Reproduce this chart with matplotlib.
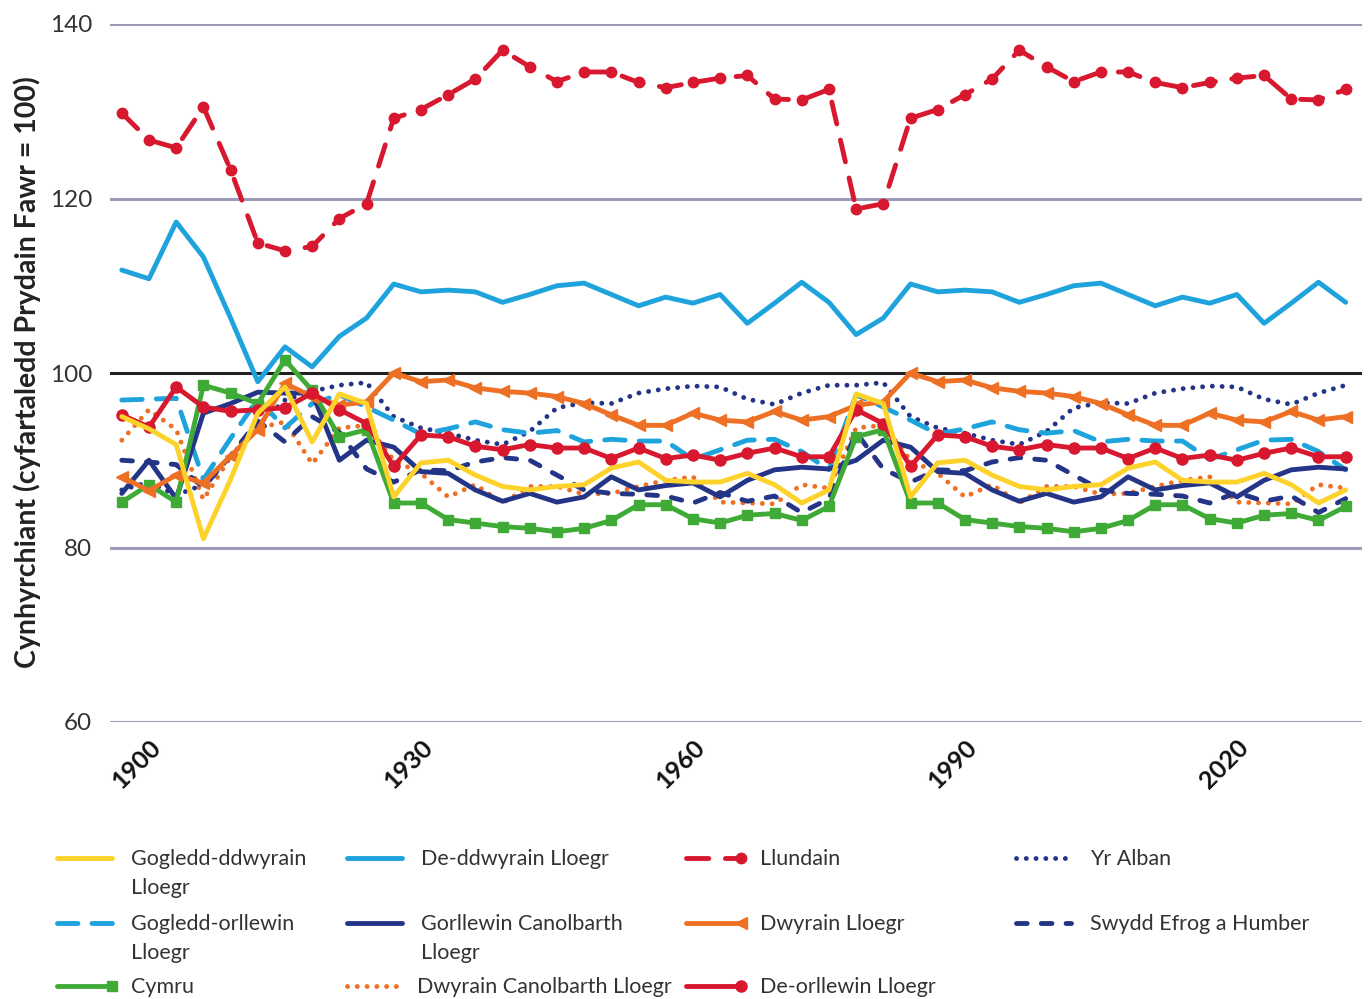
import numpy as np
import matplotlib
matplotlib.use("Agg")
import matplotlib.pyplot as plt
from matplotlib.lines import Line2D

plt.rcParams['font.family'] = ['Lato', 'DejaVu Sans']

# one point every three years, ticks every 30 years
years = np.arange(1897, 2033, 3)
tick_years = [1900, 1930, 1960, 1990, 2020]
y_ticks = [60, 80, 100, 120, 140]

gogledd_ddwyrain = [95.0, 93.6, 91.8, 81.0, 87.8, 95.4, 98.4, 92.1, 97.6, 96.5,
                    85.8, 89.7, 90.0, 88.3, 87.0, 86.6, 87.0, 87.2, 89.1, 89.8,
                    87.7, 87.5, 87.5, 88.5, 87.2, 85.1, 86.6, 97.6, 96.5, 85.8,
                    89.7, 90.0, 88.3, 87.0, 86.6, 87.0, 87.2, 89.1, 89.8, 87.7,
                    87.5, 87.5, 88.5, 87.2, 85.1, 86.6]
gogledd_orllewin = [96.9, 97.0, 97.1, 87.8, 92.5, 97.0, 93.7, 96.5, 97.5, 96.1,
                    94.6, 93.0, 93.6, 94.4, 93.5, 93.1, 93.4, 92.1, 92.4, 92.2,
                    92.2, 90.1, 91.2, 92.3, 92.4, 91.0, 88.9, 97.5, 96.1, 94.6,
                    93.0, 93.6, 94.4, 93.5, 93.1, 93.4, 92.1, 92.4, 92.2, 92.2,
                    90.1, 91.2, 92.3, 92.4, 91.0, 88.9]
cymru = [85.2, 87.2, 85.2, 98.6, 97.7, 96.5, 101.5, 98.0, 92.7, 93.5,
         85.1, 85.1, 83.2, 82.8, 82.4, 82.2, 81.8, 82.2, 83.1, 84.9,
         84.9, 83.3, 82.8, 83.7, 83.9, 83.1, 84.7, 92.7, 93.5, 85.1,
         85.1, 83.2, 82.8, 82.4, 82.2, 81.8, 82.2, 83.1, 84.9, 84.9,
         83.3, 82.8, 83.7, 83.9, 83.1, 84.7]
de_ddwyrain = [111.8, 110.8, 117.3, 113.3, 106.3, 99.0, 103.0, 100.7, 104.2, 106.3,
               110.2, 109.3, 109.5, 109.3, 108.1, 109.0, 110.0, 110.3, 109.0, 107.7,
               108.7, 108.0, 109.0, 105.7, 108.0, 110.4, 108.1, 104.4, 106.3, 110.2,
               109.3, 109.5, 109.3, 108.1, 109.0, 110.0, 110.3, 109.0, 107.7, 108.7,
               108.0, 109.0, 105.7, 108.0, 110.4, 108.1]
gorllewin_canolbarth = [86.2, 90.0, 85.6, 95.4, 96.5, 97.8, 97.7, 97.7, 90.0, 92.3,
                        91.5, 88.7, 88.5, 86.6, 85.3, 86.2, 85.2, 85.8, 88.1, 86.6,
                        87.1, 87.4, 85.8, 87.7, 88.9, 89.2, 89.0, 90.0, 92.3, 91.5,
                        88.7, 88.5, 86.6, 85.3, 86.2, 85.2, 85.8, 88.1, 86.6, 87.1,
                        87.4, 85.8, 87.7, 88.9, 89.2, 89.0]
dwyrain_canolbarth = [92.3, 95.8, 93.5, 85.5, 90.4, 93.7, 94.4, 89.6, 93.7, 94.0,
                      90.0, 88.5, 85.8, 87.2, 85.1, 87.0, 87.0, 86.1, 86.2, 87.0,
                      87.7, 88.1, 85.2, 85.1, 85.0, 87.2, 86.8, 93.7, 94.0, 90.0,
                      88.5, 85.8, 87.2, 85.1, 87.0, 87.0, 86.1, 86.2, 87.0, 87.7,
                      88.1, 85.2, 85.1, 85.0, 87.2, 86.8]
llundain = [129.8, 126.7, 125.8, 130.5, 123.3, 114.9, 114.0, 114.5, 117.7, 119.4,
            129.2, 130.2, 131.9, 133.7, 137.0, 135.1, 133.4, 134.5, 134.5, 133.3,
            132.7, 133.3, 133.8, 134.1, 131.4, 131.3, 132.5, 118.8, 119.4, 129.2,
            130.2, 131.9, 133.7, 137.0, 135.1, 133.4, 134.5, 134.5, 133.3, 132.7,
            133.3, 133.8, 134.1, 131.4, 131.3, 132.5]
dwyrain_lloegr = [88.1, 86.5, 88.3, 87.4, 90.5, 93.5, 98.8, 97.3, 96.3, 96.7,
                  100.0, 99.0, 99.2, 98.3, 97.9, 97.7, 97.3, 96.5, 95.2, 94.0,
                  94.0, 95.4, 94.6, 94.4, 95.6, 94.6, 95.0, 96.3, 96.7, 100.0,
                  99.0, 99.2, 98.3, 97.9, 97.7, 97.3, 96.5, 95.2, 94.0, 94.0,
                  95.4, 94.6, 94.4, 95.6, 94.6, 95.0]
de_orllewin = [95.2, 93.8, 98.4, 96.1, 95.6, 95.8, 96.0, 97.7, 95.8, 94.2,
               89.3, 92.9, 92.7, 91.6, 91.2, 91.8, 91.4, 91.4, 90.2, 91.4,
               90.2, 90.6, 90.0, 90.8, 91.4, 90.4, 90.4, 95.8, 94.2, 89.3,
               92.9, 92.7, 91.6, 91.2, 91.8, 91.4, 91.4, 90.2, 91.4, 90.2,
               90.6, 90.0, 90.8, 91.4, 90.4, 90.4]
yr_alban = [86.6, 87.5, 86.0, 87.2, 90.4, 94.0, 96.9, 97.9, 98.6, 98.9,
            95.0, 93.7, 93.1, 92.3, 91.8, 93.3, 96.0, 96.6, 96.5, 97.7,
            98.2, 98.5, 98.4, 97.0, 96.4, 97.7, 98.6, 98.6, 98.9, 95.0,
            93.7, 93.1, 92.3, 91.8, 93.3, 96.0, 96.6, 96.5, 97.7, 98.2,
            98.5, 98.4, 97.0, 96.4, 97.7, 98.6]
swydd_efrog = [90.0, 89.8, 89.5, 86.9, 90.5, 94.5, 92.1, 95.0, 93.2, 89.0,
               87.5, 88.9, 88.8, 89.8, 90.3, 90.0, 88.3, 86.6, 86.2, 86.1,
               85.9, 85.1, 86.3, 85.3, 85.9, 84.0, 85.6, 93.2, 89.0, 87.5,
               88.9, 88.8, 89.8, 90.3, 90.0, 88.3, 86.6, 86.2, 86.1, 85.9,
               85.1, 86.3, 85.3, 85.9, 84.0, 85.6]

YELLOW = '#fdd22b'
LBLUE = '#1fa3dd'
RED = '#d7182f'
NAVY = '#243588'
ORANGE = '#ee7024'
GREEN = '#3fab36'

solid = dict(linestyle='-')
dotted = dict(dashes=(0.01, 2.0), dash_capstyle='round')
nw_dash = dict(dashes=(4.2, 2.9), dash_capstyle='round')
yh_dash = dict(dashes=(2.2, 2.9), dash_capstyle='round')
ldn_dash = dict(dashes=(4.6, 3.4), dash_capstyle='round')

# label, values, colour, line style, marker, marker size  (draw order)
series = [
    ('Dwyrain Canolbarth Lloegr', dwyrain_canolbarth, ORANGE, dotted, None, 0),
    ('Yr Alban', yr_alban, NAVY, dotted, None, 0),
    ('Swydd Efrog a Humber', swydd_efrog, NAVY, yh_dash, None, 0),
    ('Gogledd-orllewin\nLloegr', gogledd_orllewin, LBLUE, nw_dash, None, 0),
    ('Gorllewin Canolbarth\nLloegr', gorllewin_canolbarth, NAVY, solid, None, 0),
    ('Cymru', cymru, GREEN, solid, 's', 6.5),
    ('Dwyrain Lloegr', dwyrain_lloegr, ORANGE, solid, '<', 8.5),
    ('De-orllewin Lloegr', de_orllewin, RED, solid, 'o', 8),
    ('De-ddwyrain Lloegr', de_ddwyrain, LBLUE, solid, None, 0),
    ('Gogledd-ddwyrain\nLloegr', gogledd_ddwyrain, YELLOW, solid, None, 0),
    ('Llundain', llundain, RED, ldn_dash, 'o', 7.5),
]

# legend layout: label -> (column, row)
legend_pos = {
    'Gogledd-ddwyrain\nLloegr': (0, 0), 'Gogledd-orllewin\nLloegr': (0, 1), 'Cymru': (0, 2),
    'De-ddwyrain Lloegr': (1, 0), 'Gorllewin Canolbarth\nLloegr': (1, 1),
    'Dwyrain Canolbarth Lloegr': (1, 2),
    'Llundain': (2, 0), 'Dwyrain Lloegr': (2, 1), 'De-orllewin Lloegr': (2, 2),
    'Yr Alban': (3, 0), 'Swydd Efrog a Humber': (3, 1),
}

W, H = 1371, 999
fig = plt.figure(figsize=(W / 100, H / 100), dpi=100)
ax = fig.add_axes([110 / W, 1 - 722 / H, (1362 - 110) / W, (722 - 24) / H])

LW = 3.5
for label, vals, col, ls, mk, ms in series:
    ax.plot(years, vals, color=col, lw=LW, marker=mk, markersize=ms,
            solid_capstyle='round', solid_joinstyle='round', clip_on=False, **ls)

for y in y_ticks:
    ax.axhline(y, color='#222222' if y == 100 else '#9d9bbd', lw=2.2, zorder=0.5)

ax.set_xlim(1895.7, 2033.8)
ax.set_ylim(60, 140)
ax.set_yticks(y_ticks)
ax.set_yticklabels([str(v) for v in y_ticks], fontsize=17.5, color='#333333')
ax.set_xticks(tick_years)
ax.set_xticklabels([str(v) for v in tick_years], rotation=45, ha='right',
                   rotation_mode='anchor', fontsize=18, fontweight='bold', color='#111111')
ax.tick_params(axis='both', length=0)
ax.tick_params(axis='y', pad=13)
ax.tick_params(axis='x', pad=10)
for s in ax.spines.values():
    s.set_visible(False)

fig.text(27 / W, 1 - 372 / H, 'Cynhyrchiant (cyfartaledd Prydain Fawr = 100)',
         rotation=90, ha='center', va='center', fontsize=20.5, fontweight='bold',
         color='#222222')

# legend drawn by hand so rows line up across columns
col_x = [57, 347, 686, 1016]
row_y = [858, 923, 986]
for label, vals, col, ls, mk, ms in series:
    c, r = legend_pos[label]
    x0, y0 = col_x[c], row_y[r]
    h = Line2D([x0 / W, (x0 + 55) / W], [1 - y0 / H, 1 - y0 / H],
               transform=fig.transFigure, color=col, lw=LW, marker=mk, markersize=ms,
               markevery=[1], solid_capstyle='round', **ls)
    fig.add_artist(h)
    tx = x0 + 74 if label != 'Dwyrain Canolbarth Lloegr' else x0 + 70
    fig.text(tx / W, 1 - (y0 - 9) / H, label, ha='left', va='top',
             fontsize=15.5, color='#333333', linespacing=1.55)

fig.savefig('out.png', dpi=100)
